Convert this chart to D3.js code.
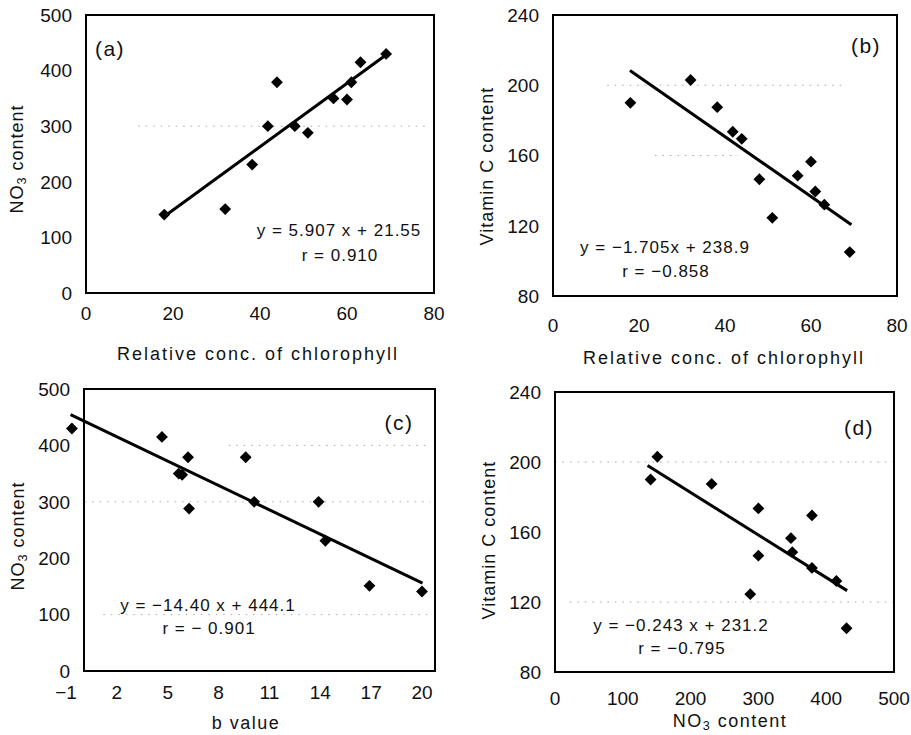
<!DOCTYPE html>
<html>
<head>
<meta charset="utf-8">
<script src="https://cdn.jsdelivr.net/npm/d3@7"></script>
<style>
  body { margin: 0; background: #fff; }
  svg { display: block; font-family: "Liberation Sans", Arial, sans-serif; }
</style>
</head>
<body>
<div id="chart"></div>
<script>
'use strict';

// samples, same order in every array
var chlorophyll = [18, 32, 38.2, 41.8, 43.9, 48, 51, 56.9, 60, 61, 63.1, 69];
var nitrate     = [141, 151, 231, 300, 379, 300, 288, 350, 348, 379, 415, 430];
var vitaminC    = [190, 203, 187.5, 173.5, 169.5, 146.5, 124.5, 148.5, 156.5, 139.5, 132, 105];
var bValue      = [20, 16.9, 14.3, 13.9, 9.6, 10.1, 6.26, 5.65, 5.85, 6.2, 4.66, -0.65];

// fitted lines, end points as drawn
var fitA = [[17.5, 135], [69.1, 429]];
var fitB = [[17.9, 208.4], [69.4, 120.6]];
var fitC = [[-0.73, 454.6], [20.03, 155.7]];
var fitD = [[136.5, 198], [430.8, 126.5]];

var ticksChl = [0, 20, 40, 60, 80];
var ticksNO3 = [0, 100, 200, 300, 400, 500];
var ticksVitC = [80, 120, 160, 200, 240];
var ticksB = [-1, 2, 5, 8, 11, 14, 17, 20];

var width = 911, height = 735;

var svg = d3.select('#chart').append('svg')
  .attr('width', width).attr('height', height);

var panels = [
  { xs: chlorophyll, ys: nitrate, fit: fitA,
    xDomain: [0, 80], xRange: [86, 434], yDomain: [0, 500], yRange: [293, 15],
    frame: [86, 15, 434, 293], xTicks: ticksChl, yTicks: ticksNO3,
    xTickY: 313, xTitle: 'Relative conc. of chlorophyll', xTitlePos: [258, 360], xSpacing: 2,
    yTitle: ['NO', '3', ' content'], yTitlePos: [23, 159],
    grid: [{ v: 300, from: 12, to: 78 }],
    tag: '(a)', tagPos: [110, 48],
    eq: ['y = 5.907 x + 21.55', 'r = 0.910'], eqPos: [[339, 230], [340, 255]] },
  { xs: chlorophyll, ys: vitaminC, fit: fitB,
    xDomain: [0, 80], xRange: [553, 897], yDomain: [80, 240], yRange: [296, 15],
    frame: [553, 15, 897, 296], xTicks: ticksChl, yTicks: ticksVitC,
    xTickY: 325, xTitle: 'Relative conc. of chlorophyll', xTitlePos: [724, 364], xSpacing: 2,
    yTitle: ['Vitamin C content'], yTitlePos: [493, 166],
    grid: [{ v: 200, from: 12.6, to: 67.4 }, { v: 160, from: 23.7, to: 43 }],
    tag: '(b)', tagPos: [866, 45],
    eq: ['y = \u22121.705x + 238.9', 'r = \u22120.858'], eqPos: [[665, 247], [666, 271]] },
  { xs: bValue, ys: nitrate, fit: fitC,
    xDomain: [-1, 20], xRange: [66, 422], yDomain: [0, 500], yRange: [671, 389],
    frame: [84, 389, 435, 671], xTicks: ticksB, yTicks: ticksNO3,
    xTickY: 692, xTitle: 'b value', xTitlePos: [246, 729], xSpacing: 1.5,
    yTitle: ['NO', '3', ' content'], yTitlePos: [24, 536],
    grid: [{ v: 400, from: 8.6, to: 20.3 }, { v: 300, from: 0.1, to: 20.5 }, { v: 100, from: 1.2, to: 20.5 }],
    tag: '(c)', tagPos: [399, 422],
    eq: ['y = \u221214.40 x + 444.1', 'r = \u2212 0.901'], eqPos: [[208, 605], [209, 628]] },
  { xs: nitrate, ys: vitaminC, fit: fitD,
    xDomain: [0, 500], xRange: [555, 894], yDomain: [80, 240], yRange: [672, 392],
    frame: [555, 392, 894, 672], xTicks: [0, 100, 200, 300, 400, 500], yTicks: ticksVitC,
    xTickY: 698, xTitle: ['NO', '3', ' content'], xTitlePos: [730, 727], xSpacing: 1.5,
    yTitle: ['Vitamin C content'], yTitlePos: [495, 540],
    grid: [{ v: 200, from: 0, to: 500 }, { v: 120, from: 22, to: 500 }],
    tag: '(d)', tagPos: [859, 427],
    eq: ['y = \u22120.243 x + 231.2', 'r = \u22120.795'], eqPos: [[681, 625], [682, 648]] }
];

// writes plain text or [main, subscript, rest] into a text node
function fillText(sel, parts) {
  if (typeof parts === 'string') { sel.text(parts); return; }
  sel.append('tspan').text(parts[0]);
  sel.append('tspan').attr('font-size', '70%').attr('dy', 3).text(parts[1]);
  sel.append('tspan').attr('dy', -3).text(parts[2]);
}

var marker = d3.symbol().type(d3.symbolSquare).size(70);

panels.forEach(function(p) {
  var x = d3.scaleLinear().domain(p.xDomain).range(p.xRange);
  var y = d3.scaleLinear().domain(p.yDomain).range(p.yRange);
  var g = svg.append('g');
  var f = p.frame;

  // faint dotted gridlines
  g.selectAll('.grid').data(p.grid).enter().append('line')
    .attr('x1', function(d) { return x(d.from); })
    .attr('x2', function(d) { return Math.min(x(d.to), f[2]); })
    .attr('y1', function(d) { return y(d.v); })
    .attr('y2', function(d) { return y(d.v); })
    .attr('stroke', '#a8a8a8').attr('stroke-width', 1)
    .attr('stroke-dasharray', '1.5,6');

  // frame
  g.append('rect').attr('x', f[0]).attr('y', f[1])
    .attr('width', f[2] - f[0]).attr('height', f[3] - f[1])
    .attr('fill', 'none').attr('stroke', '#000').attr('stroke-width', 2);

  // tick labels
  g.selectAll('.yt').data(p.yTicks).enter().append('text')
    .attr('x', f[0] - 14).attr('y', function(d) { return y(d); })
    .attr('dy', '0.36em').attr('text-anchor', 'end')
    .attr('font-size', 19).attr('fill', '#111')
    .text(function(d) { return d; });
  g.selectAll('.xt').data(p.xTicks).enter().append('text')
    .attr('x', function(d) { return x(d); }).attr('y', p.xTickY)
    .attr('dy', '0.36em').attr('text-anchor', 'middle')
    .attr('font-size', 19).attr('fill', '#111')
    .text(function(d) { return d < 0 ? '\u2212' + (-d) : d; });

  // axis titles
  var xt = g.append('text').attr('x', p.xTitlePos[0]).attr('y', p.xTitlePos[1])
    .attr('text-anchor', 'middle').attr('font-size', 18)
    .attr('letter-spacing', p.xSpacing).attr('fill', '#111');
  fillText(xt, p.xTitle);
  var yt = g.append('text')
    .attr('transform', 'translate(' + p.yTitlePos[0] + ',' + p.yTitlePos[1] + ') rotate(-90)')
    .attr('text-anchor', 'middle').attr('font-size', 18)
    .attr('letter-spacing', 1).attr('fill', '#111');
  fillText(yt, p.yTitle);

  // fitted line
  g.append('line')
    .attr('x1', x(p.fit[0][0])).attr('y1', y(p.fit[0][1]))
    .attr('x2', x(p.fit[1][0])).attr('y2', y(p.fit[1][1]))
    .attr('stroke', '#000').attr('stroke-width', 3);

  // points
  g.selectAll('.pt').data(d3.range(p.xs.length)).enter().append('path')
    .attr('d', marker)
    .attr('transform', function(i) {
      return 'translate(' + x(p.xs[i]) + ',' + y(p.ys[i]) + ') rotate(45)';
    })
    .attr('fill', '#000');

  // panel tag and equation
  g.append('text').attr('x', p.tagPos[0]).attr('y', p.tagPos[1])
    .attr('dy', '0.36em').attr('text-anchor', 'middle')
    .attr('font-size', 21).attr('letter-spacing', 1.5).attr('fill', '#111')
    .text(p.tag);
  g.selectAll('.eq').data(p.eq).enter().append('text')
    .attr('x', function(d, i) { return p.eqPos[i][0]; })
    .attr('y', function(d, i) { return p.eqPos[i][1]; })
    .attr('dy', '0.36em').attr('text-anchor', 'middle')
    .attr('font-size', 17).attr('letter-spacing', 1).attr('fill', '#111')
    .style('white-space', 'pre')
    .text(function(d) { return d; });
});
</script>
</body>
</html>
